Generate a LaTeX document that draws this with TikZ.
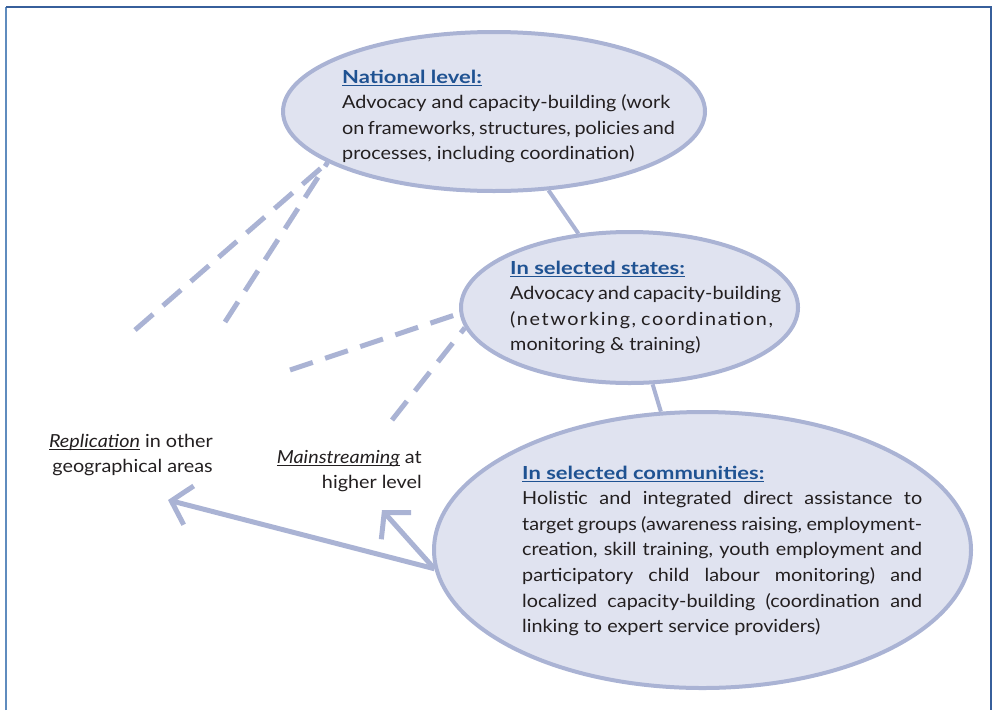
\documentclass[tikz,border=0pt]{standalone}
\usepackage{fontspec}
\setmainfont{Lato}[FakeStretch=1.1]
\newfontfamily\headfont{Lato}[FakeStretch=1.22]
\newfontfamily\trackfont{Lato}[FakeStretch=1.1, LetterSpace=9]
\usetikzlibrary{shapes.geometric,arrows.meta}

\definecolor{ringline}{RGB}{170,179,212}
\definecolor{ringfill}{RGB}{224,227,240}
\definecolor{headblue}{RGB}{31,82,146}
\definecolor{bodytext}{RGB}{35,31,32}
\definecolor{frameleft}{RGB}{95,140,190}
\definecolor{frametop}{RGB}{55,95,155}

% a justified line of given box width
\newcommand\jline[1]{\makebox[\linewidth][s]{#1}}
% underline sitting just under the baseline
\newcommand\ulined[1]{\leavevmode\setbox0\hbox{#1}\rlap{\rule[-2.8pt]{\wd0}{0.9pt}}\box0\relax}
% blue underlined heading of a level
\newcommand\levelhead[1]{\textcolor{headblue}{\headfont\bfseries\ulined{#1}}}

\begin{document}
\begin{tikzpicture}[x=1pt,y=-1pt,
  level/.style={ellipse, draw=ringline, fill=ringfill, line width=4pt, inner sep=0pt},
  link/.style={draw=ringline, line width=4pt},
  dashlink/.style={draw=ringline, line width=5pt, dash pattern=on 24pt off 13pt},
  flow/.style={draw=ringline, line width=5pt, -{Straight Barb[length=18pt,width=40pt]}},
  body/.style={anchor=base west, inner sep=0pt, text=bodytext,
    font=\fontsize{18}{25.6}\selectfont},
  side/.style={anchor=base east, inner sep=0pt, text=bodytext,
    font=\fontsize{18}{25.3}\selectfont},
]
\useasboundingbox (0,0) rectangle (992,710);

% page frame, open at the bottom
\draw[frameleft, line width=2.2pt] (6,710) -- (6,7);
\draw[frametop, line width=1.3pt] (6,7) -- (991,7) -- (991,710);

% the three levels
\node[level, minimum width=422pt, minimum height=159pt] (nat) at (494,111.5) {};
\node[level, minimum width=337pt, minimum height=151pt] (sta) at (629.5,307.5) {};
\node[level, minimum width=537pt, minimum height=276pt] (com) at (702.5,550) {};

% links between the levels
\draw[link] (nat) -- (sta);
\draw[link] (sta) -- (com);

% free ends of the dashed rays and the arrows
\coordinate (ray1) at (135,330);
\coordinate (ray2) at (225,322);
\coordinate (ray3) at (290,370);
\coordinate (ray4) at (392,420);
\coordinate (repTip) at (168,500);
\coordinate (mainTip) at (382,510);

\draw[dashlink] (ray1) -- (nat.197);
\draw[dashlink] (ray2) -- (nat.197);
\draw[dashlink] (ray3) -- (sta.182);
\draw[dashlink] (ray4) -- (sta.187);

\draw[flow] (com.184) -- (repTip);
\draw[flow] (com.184) -- (mainTip);

% texts of the levels
\node[body] (natText) at (342,83) {\parbox[t]{328pt}{%
  \levelhead{National level:}\\
  \jline{Advocacy and capacity-building (work}\\
  \jline{on frameworks, structures, policies and}\\
  processes, including coordination)}};

\node[body] (staText) at (510,274) {\parbox[t]{258pt}{%
  \levelhead{In selected states:}\\
  \jline{Advocacy and capacity-building}\\
  \jline{\trackfont(networking, coordination,}\\
  monitoring \& training)}};

\node[body] (comText) at (522,479) {\parbox[t]{400pt}{%
  \levelhead{In selected communities:}\\
  \jline{Holistic and integrated direct assistance to}\\
  \jline{target groups (awareness raising, employment-}\\
  \jline{creation, skill training, youth employment and}\\
  \jline{participatory child labour monitoring) and}\\
  \jline{localized capacity-building (coordination and}\\
  linking to expert service providers)}};

% outcome labels
\node[side] (repText) at (213,447) {\parbox[t]{200pt}{\raggedleft
  \ulined{\itshape Replication} in other\\geographical areas}};
\node[side] (mainText) at (422,463) {\parbox[t]{200pt}{\raggedleft
  \ulined{\itshape Mainstreaming} at\\higher level}};
\end{tikzpicture}
\end{document}
